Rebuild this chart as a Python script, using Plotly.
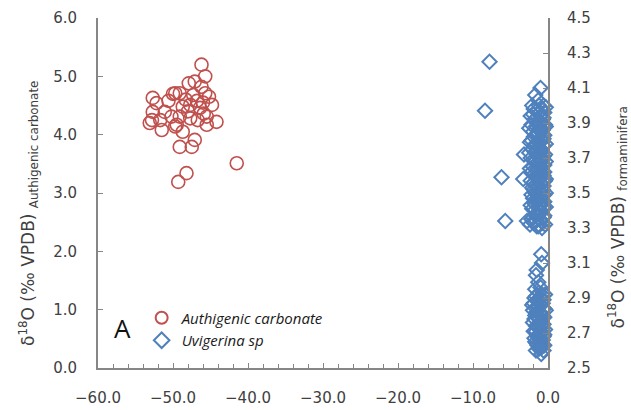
import plotly.graph_objects as go

# Authigenic carbonate: x value and d18O (left axis)
auth_x = [-46.2, -45.7, -47.1, -46.2, -49.1, -49.7, -47.3, -45.7, -52.7, -44.8,
          -52.2, -52.7, -51.1, -48.7, -47.7, -46.4, -45.5, -44.2, -52.8, -51.7,
          -50.2, -49.1, -47.7, -46.7, -49.5, -53.1, -51.5, -49.7, -48.7, -47.1,
          -49.1, -47.5, -45.5, -41.5, -48.2, -49.3, -48.3, -46.8, -45.2, -50.6,
          -48.0, -46.0, -50.0, -47.9, -45.9]
auth_y = [5.20, 5.00, 4.91, 4.82, 4.71, 4.71, 4.68, 4.71, 4.63, 4.51,
          4.54, 4.39, 4.39, 4.48, 4.51, 4.46, 4.31, 4.22, 4.25, 4.25,
          4.31, 4.31, 4.28, 4.25, 4.17, 4.20, 4.08, 4.14, 4.05, 3.91,
          3.79, 3.79, 4.17, 3.51, 3.34, 3.19, 4.60, 4.58, 4.65, 4.58,
          4.40, 4.55, 4.70, 4.88, 4.36]

# Uvigerina sp: x value and d18O (right axis)
uvi_x = [-7.8, -8.4, -6.2, -5.7, -3.3, -2.8, -3.2,
         -1.0, -1.7, -1.3,
         -1.2, -0.8, -1.5, -0.5, -2.0, -1.0, -0.6, -1.8, -1.3, -0.9,
         -2.2, -0.4, -1.6, -1.1, -0.7, -2.0, -1.4, -0.5, -1.9, -1.0,
         -0.8, -2.4, -1.5, -0.6, -1.2, -2.1, -0.9, -1.7, -0.4, -1.3,
         -2.3, -0.7, -1.8, -1.1, -0.5, -2.0, -1.4, -0.8, -2.2, -1.0,
         -0.6, -1.6, -1.2, -0.4, -1.9, -0.9, -1.4, -2.1, -0.7, -1.1,
         -1.7, -0.5, -1.3, -2.0, -0.8, -1.5, -1.0, -2.3, -0.6, -1.2,
         -1.8, -0.9, -1.4, -0.5, -2.0, -1.1, -1.6, -0.7, -2.4, -1.3,
         -0.3, -1.9, -1.1, -2.3, -0.7, -1.5, -0.3, -2.5, -1.0, -1.7,
         -0.6, -2.2, -1.3, -0.3, -1.9, -0.9, -1.6, -2.5, -0.6, -1.1,
         -2.0, -0.3, -1.5, -0.9, -2.4, -1.2, -0.5, -1.8, -1.4, -0.3,
         -2.3, -1.0, -1.6, -0.6, -1.9, -1.2, -0.3, -2.2, -0.9, -1.5,
         -0.5, -1.8, -1.2, -0.3, -2.1, -1.0, -1.6, -0.6, -1.3, -2.2,
         -0.9, -1.9, -0.4, -1.5, -0.8, -0.6, -2.1,
         -0.9, -1.5, -1.3, -0.8, -1.6, -1.0, -1.7,
         -1.2, -0.8, -1.6, -1.0, -0.6, -1.4, -1.9, -0.9, -1.2, -0.5,
         -2.0, -1.5, -1.0, -0.7, -1.3, -1.8, -0.9, -1.1, -0.6, -1.6,
         -1.3, -0.8, -1.9, -1.0, -0.5, -1.4, -1.2, -0.7, -1.7, -1.0,
         -1.4, -0.8, -1.2, -0.9,
         -0.4, -1.8, -1.3, -0.7, -2.1, -1.5, -0.3, -1.1, -1.7, -0.5,
         -1.2, -2.0, -0.8, -1.4, -0.4, -1.6, -1.1, -0.6, -1.8, -0.9,
         -1.5, -0.5, -1.1, -1.6, -0.6]
uvi_y = [4.25, 3.97, 3.59, 3.34, 3.58, 3.34, 3.72,
         4.10, 4.06, 4.03,
         4.00, 3.98, 3.97, 3.96, 3.95, 3.94, 3.93, 3.92, 3.91, 3.90,
         3.89, 3.89, 3.88, 3.87, 3.86, 3.85, 3.84, 3.83, 3.82, 3.81,
         3.80, 3.79, 3.78, 3.77, 3.76, 3.75, 3.74, 3.73, 3.72, 3.71,
         3.70, 3.69, 3.68, 3.67, 3.66, 3.65, 3.64, 3.63, 3.62, 3.61,
         3.60, 3.59, 3.58, 3.57, 3.56, 3.55, 3.54, 3.53, 3.52, 3.51,
         3.50, 3.49, 3.48, 3.47, 3.46, 3.45, 3.44, 3.43, 3.42, 3.41,
         3.40, 3.39, 3.38, 3.37, 3.36, 3.35, 3.34, 3.33, 3.32, 3.31,
         3.99, 3.98, 3.96, 3.94, 3.92, 3.90, 3.88, 3.87, 3.85, 3.83,
         3.81, 3.80, 3.79, 3.78, 3.77, 3.75, 3.74, 3.73, 3.71, 3.70,
         3.69, 3.68, 3.67, 3.65, 3.64, 3.63, 3.62, 3.61, 3.60, 3.58,
         3.57, 3.56, 3.55, 3.54, 3.52, 3.51, 3.50, 3.49, 3.48, 3.47,
         3.45, 3.44, 3.43, 3.42, 3.41, 3.40, 3.38, 3.36, 3.36, 3.35,
         3.34, 3.33, 3.32, 3.31, 3.30, 4.00, 4.00,
         3.15, 3.06, 2.99, 3.10, 3.03, 2.96, 2.95,
         2.93, 2.92, 2.91, 2.90, 2.89, 2.88, 2.87, 2.86, 2.85, 2.84,
         2.83, 2.82, 2.81, 2.80, 2.79, 2.78, 2.77, 2.76, 2.75, 2.74,
         2.73, 2.72, 2.71, 2.70, 2.69, 2.68, 2.67, 2.66, 2.65, 2.64,
         2.63, 2.62, 2.61, 2.58,
         2.92, 2.90, 2.89, 2.87, 2.86, 2.85, 2.83, 2.82, 2.80, 2.79,
         2.78, 2.76, 2.75, 2.74, 2.72, 2.71, 2.69, 2.68, 2.67, 2.65,
         2.64, 2.63, 2.62, 2.60, 2.60]

# Tick values for the three axes
x_ticks = [-60, -50, -40, -30, -20, -10, 0]
left_ticks = [0, 1, 2, 3, 4, 5, 6]
right_ticks = [2.5, 2.7, 2.9, 3.1, 3.3, 3.5, 3.7, 3.9, 4.1, 4.3, 4.5]

RED = "#C0504D"
BLUE = "#4F81BD"
AXIS = "#868686"
TXT = "#404040"

fig = go.Figure()
fig.add_trace(go.Scatter(
    x=auth_x, y=auth_y, mode="markers", name="<i>Authigenic carbonate</i>",
    marker=dict(symbol="circle-open", size=13, color=RED, line=dict(width=1.6, color=RED)),
    cliponaxis=False,
))
fig.add_trace(go.Scatter(
    x=uvi_x, y=uvi_y, mode="markers", name="<i>Uvigerina sp</i>", yaxis="y2",
    marker=dict(symbol="diamond-open", size=11, color=BLUE, line=dict(width=2, color=BLUE)),
    cliponaxis=False,
))

tickfont = dict(family="DejaVu Sans", size=15, color=TXT)
common = dict(showgrid=False, zeroline=False, showline=True, linecolor=AXIS, linewidth=2,
              ticks="inside", ticklen=5, tickcolor=AXIS, tickwidth=1, tickfont=tickfont,
              tickformat=".1f", automargin=False)

fig.update_layout(
    width=631, height=410,
    margin=dict(l=98, r=83, t=18, b=42),
    plot_bgcolor="white", paper_bgcolor="white",
    showlegend=True,
    legend=dict(x=0.097, y=0.19, xanchor="left", yanchor="top",
                font=dict(family="Open Sans", size=15, color="#1a1a1a"),
                bgcolor="rgba(0,0,0,0)", tracegroupgap=2, itemsizing="constant"),
    xaxis=dict(range=[-60, 0], tickvals=x_ticks, ticklabelstandoff=15,
               minor=dict(dtick=2, ticks="inside", ticklen=4, tickcolor=AXIS, tickwidth=1),
               **common),
    yaxis=dict(range=[0, 6], tickvals=left_ticks, ticklabelstandoff=16, **common),
    yaxis2=dict(range=[2.5, 4.5], tickvals=right_ticks, overlaying="y", side="right",
                ticklabelstandoff=14, **common),
)

title_font = dict(family="DejaVu Sans", size=17, color=TXT)
fig.add_annotation(
    text="δ<sup>18</sup>O (‰ VPDB) <sub>Authigenic carbonate</sub>",
    xref="paper", yref="paper", x=0, y=0.44, xshift=-70, textangle=-90,
    showarrow=False, font=title_font, xanchor="center", yanchor="middle",
)
fig.add_annotation(
    text="δ<sup>18</sup>O (‰ VPDB) <sub>formaminifera</sub>",
    xref="paper", yref="paper", x=1, y=0.43, xshift=70, textangle=-90,
    showarrow=False, font=title_font, xanchor="center", yanchor="middle",
)
fig.add_annotation(
    text="A", xref="x", yref="y", x=-56.7, y=0.69, showarrow=False,
    font=dict(family="Open Sans", size=26, color="#111111"),
)

fig.write_html("out.html")
